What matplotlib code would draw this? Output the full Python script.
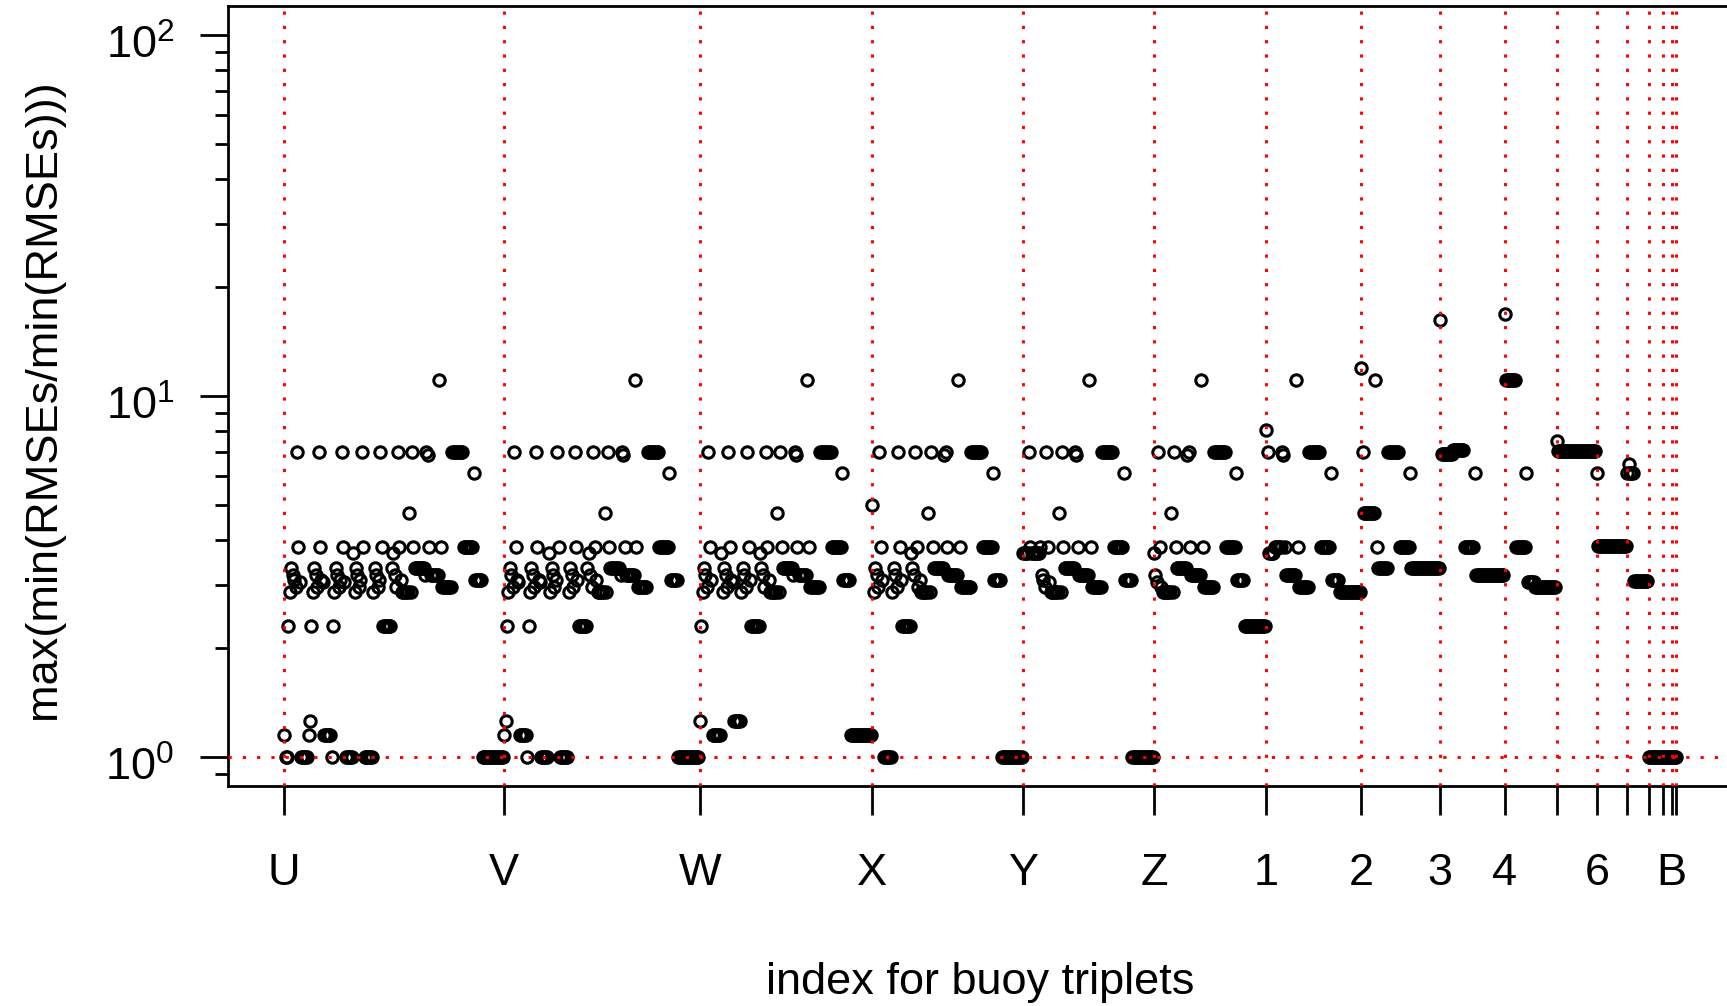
import matplotlib
matplotlib.use("Agg")
import matplotlib.pyplot as plt
import matplotlib.transforms as mtransforms
from matplotlib.ticker import LogLocator, NullFormatter

plt.rcParams['font.family'] = ['Liberation Sans', 'DejaVu Sans']
plt.rcParams['mathtext.fontset'] = 'custom'
plt.rcParams['mathtext.rm'] = 'Liberation Sans'
plt.rcParams['mathtext.it'] = 'Liberation Sans:italic'

# first triplet index of each group (first buoy of the triplet)
group_start = [1, 154, 290, 410, 515, 606, 684, 750, 805, 850, 886, 914, 935, 950, 960, 966, 969]
tick_labels = ['U', 'V', 'W', 'X', 'Y', 'Z', '1', '2', '3', '4', '', '6', '', '', '', 'B', '']

# runs inside each group: (first, last, value), positions counted from the group start
runs_U = [(1, 1, 1.15), (2, 3, 1.0), (4, 4, 2.3), (5, 5, 2.87), (6, 6, 3.33), (7, 7, 3.19), (8, 8, 3.09),
          (9, 9, 2.96), (10, 10, 7.0), (11, 11, 3.82), (12, 12, 3.06), (13, 17, 1.0),
          (18, 18, 1.15), (19, 19, 1.26), (20, 20, 2.3), (21, 21, 2.87), (22, 22, 3.33), (23, 23, 3.19),
          (24, 24, 2.96), (25, 25, 7.0), (26, 26, 3.82), (27, 27, 3.09), (28, 28, 3.06), (29, 33, 1.15),
          (34, 34, 1.0), (35, 35, 2.3), (36, 36, 2.87), (37, 37, 3.33), (38, 38, 3.19), (39, 39, 2.96),
          (40, 40, 3.09), (41, 41, 7.0), (42, 42, 3.82), (43, 43, 3.06), (44, 48, 1.0),
          (49, 49, 3.67), (50, 50, 2.87), (51, 51, 3.33), (52, 52, 3.19), (53, 53, 2.96), (54, 54, 3.09),
          (55, 55, 7.0), (56, 56, 3.82), (57, 62, 1.0),
          (63, 63, 2.87), (64, 64, 3.33), (65, 65, 3.19), (66, 66, 2.96), (67, 67, 3.09), (68, 68, 7.0),
          (69, 69, 3.82), (70, 75, 2.3),
          (76, 76, 3.33), (77, 77, 3.67), (78, 78, 3.19), (79, 79, 2.96), (80, 80, 7.0), (81, 81, 3.82),
          (82, 82, 3.09), (83, 87, 2.87),
          (88, 88, 4.75), (89, 89, 2.87), (90, 90, 7.0), (91, 91, 3.82), (92, 98, 3.33),
          (99, 99, 3.19), (100, 100, 7.0), (101, 101, 6.85), (102, 102, 3.82), (103, 108, 3.19),
          (109, 109, 11.07), (110, 110, 3.82), (111, 117, 2.96),
          (118, 125, 7.0), (126, 132, 3.82), (133, 133, 6.12), (134, 138, 3.09), (139, 153, 1.0)]

runs_V = [(1, 1, 1.15), (2, 2, 1.26), (3, 3, 2.3), (4, 4, 2.87), (5, 5, 3.33), (6, 6, 3.19), (7, 7, 2.96),
          (8, 8, 7.0), (9, 9, 3.82), (10, 10, 3.09), (11, 11, 3.06), (12, 16, 1.15),
          (17, 17, 1.0), (18, 18, 2.3), (19, 19, 2.87), (20, 20, 3.33), (21, 21, 3.19), (22, 22, 2.96),
          (23, 23, 7.0), (24, 24, 3.82), (25, 25, 3.09), (26, 26, 3.06), (27, 31, 1.0),
          (32, 32, 3.67), (33, 33, 2.87), (34, 34, 3.33), (35, 35, 3.19), (36, 36, 2.96), (37, 37, 3.09),
          (38, 38, 7.0), (39, 39, 3.82), (40, 45, 1.0),
          (46, 46, 2.87), (47, 47, 3.33), (48, 48, 3.19), (49, 49, 2.96), (50, 50, 7.0), (51, 51, 3.82),
          (52, 52, 3.09), (53, 58, 2.3),
          (59, 59, 3.33), (60, 60, 3.67), (61, 61, 3.19), (62, 62, 2.96), (63, 63, 7.0), (64, 64, 3.82),
          (65, 65, 3.09), (66, 70, 2.87),
          (71, 71, 4.75), (72, 72, 2.87), (73, 73, 7.0), (74, 74, 3.82), (75, 81, 3.33),
          (82, 82, 3.19), (83, 83, 7.0), (84, 84, 6.85), (85, 85, 3.82), (86, 91, 3.19),
          (92, 92, 11.07), (93, 93, 3.82), (94, 100, 2.96),
          (101, 108, 7.0), (109, 115, 3.82), (116, 116, 6.12), (117, 121, 3.09), (122, 136, 1.0)]

runs_W = [(1, 1, 1.26), (2, 2, 2.3), (3, 3, 2.87), (4, 4, 3.33), (5, 5, 3.19), (6, 6, 2.96), (7, 7, 7.0),
          (8, 8, 3.82), (9, 9, 3.09), (10, 15, 1.15),
          (16, 16, 3.67), (17, 17, 2.87), (18, 18, 3.33), (19, 19, 3.19), (20, 20, 2.96), (21, 21, 7.0),
          (22, 22, 3.82), (23, 23, 3.09), (24, 24, 3.06), (25, 29, 1.26),
          (30, 30, 2.87), (31, 31, 3.33), (32, 32, 3.19), (33, 33, 2.96), (34, 34, 7.0), (35, 35, 3.82),
          (36, 36, 3.09), (37, 42, 2.3),
          (43, 43, 3.67), (44, 44, 3.33), (45, 45, 3.19), (46, 46, 2.96), (47, 47, 7.0), (48, 48, 3.82),
          (49, 49, 3.09), (50, 54, 2.87),
          (55, 55, 4.75), (56, 56, 2.87), (57, 57, 7.0), (58, 58, 3.82), (59, 65, 3.33),
          (66, 66, 3.19), (67, 67, 7.0), (68, 68, 6.85), (69, 69, 3.82), (70, 75, 3.19),
          (76, 76, 11.07), (77, 77, 3.82), (78, 84, 2.96),
          (85, 92, 7.0), (93, 99, 3.82), (100, 100, 6.12), (101, 105, 3.09), (106, 120, 1.15)]

runs_X = [(1, 1, 5.0), (2, 2, 2.87), (3, 3, 3.33), (4, 4, 3.19), (5, 5, 2.96), (6, 6, 7.0), (7, 7, 3.82),
          (8, 8, 3.09), (9, 14, 1.0),
          (15, 15, 2.87), (16, 16, 3.33), (17, 17, 3.19), (18, 18, 2.96), (19, 19, 7.0), (20, 20, 3.82),
          (21, 21, 3.09), (22, 27, 2.3),
          (28, 28, 3.67), (29, 29, 3.33), (30, 30, 3.19), (31, 31, 7.0), (32, 32, 3.82), (33, 33, 2.96),
          (34, 34, 3.09), (35, 39, 2.87),
          (40, 40, 4.75), (41, 41, 2.87), (42, 42, 7.0), (43, 43, 3.82), (44, 50, 3.33),
          (51, 51, 6.85), (52, 52, 7.0), (53, 53, 3.82), (54, 60, 3.19),
          (61, 61, 11.07), (62, 62, 3.82), (63, 69, 2.96),
          (70, 77, 7.0), (78, 84, 3.82), (85, 85, 6.12), (86, 90, 3.09), (91, 105, 1.0)]

runs_Y = [(1, 4, 3.67), (5, 5, 7.0), (6, 6, 3.82), (7, 12, 3.67), (13, 13, 3.82),
          (14, 14, 3.19), (15, 15, 3.09), (16, 16, 2.96), (17, 17, 7.0), (18, 18, 3.82), (19, 19, 3.06),
          (20, 25, 2.87),
          (26, 26, 4.75), (27, 27, 2.87), (28, 28, 7.0), (29, 29, 3.82), (30, 36, 3.33),
          (37, 37, 7.0), (38, 38, 6.85), (39, 39, 3.82), (40, 46, 3.19),
          (47, 47, 11.07), (48, 48, 3.82), (49, 55, 2.96),
          (56, 63, 7.0), (64, 70, 3.82), (71, 71, 6.12), (72, 76, 3.09), (77, 91, 1.0)]

runs_Z = [(1, 1, 3.67), (2, 2, 3.19), (3, 3, 3.06), (4, 4, 7.0), (5, 5, 3.82), (6, 6, 2.96), (7, 12, 2.87),
          (13, 13, 4.75), (14, 14, 2.87), (15, 15, 7.0), (16, 16, 3.82), (17, 23, 3.33),
          (24, 24, 6.85), (25, 25, 7.0), (26, 26, 3.82), (27, 33, 3.19),
          (34, 34, 11.07), (35, 35, 3.82), (36, 42, 2.96),
          (43, 50, 7.0), (51, 57, 3.82), (58, 58, 6.12), (59, 63, 3.09), (64, 78, 2.3)]

runs_1 = [(1, 1, 8.05), (2, 2, 7.0), (3, 6, 3.67), (7, 11, 3.82),
          (12, 12, 7.0), (13, 13, 6.85), (14, 14, 3.82), (15, 21, 3.19),
          (22, 22, 11.07), (23, 23, 3.82), (24, 30, 2.96),
          (31, 38, 7.0), (39, 45, 3.82), (46, 46, 6.12), (47, 51, 3.09), (52, 66, 2.87)]

runs_2 = [(1, 1, 11.94), (2, 2, 7.0), (3, 10, 4.75), (11, 11, 11.07), (12, 12, 3.82), (13, 19, 3.33),
          (20, 27, 7.0), (28, 34, 3.82), (35, 35, 6.12), (36, 55, 3.33)]

runs_3 = [(1, 1, 16.2), (2, 9, 6.9), (10, 17, 7.1), (18, 24, 3.82), (25, 25, 6.12), (26, 45, 3.19)]

runs_4 = [(1, 1, 16.85), (2, 8, 11.07), (9, 15, 3.82), (16, 16, 6.12), (17, 21, 3.06), (22, 36, 2.96)]

runs_5 = [(1, 1, 7.5), (2, 28, 7.05)]
runs_6 = [(1, 1, 6.13), (2, 21, 3.85)]
runs_7 = [(1, 1, 6.1), (2, 2, 6.48), (3, 5, 6.1), (6, 15, 3.07)]
runs_8 = [(1, 10, 1.0)]
runs_9 = [(1, 6, 1.0)]
runs_A = [(1, 3, 1.0)]
runs_B = [(1, 1, 1.0)]

group_runs = [runs_U, runs_V, runs_W, runs_X, runs_Y, runs_Z, runs_1, runs_2, runs_3, runs_4,
              runs_5, runs_6, runs_7, runs_8, runs_9, runs_A, runs_B]

xs, ys = [], []
for start, runs in zip(group_start, group_runs):
    for a, b, v in runs:
        for r in range(a, b + 1):
            xs.append(start + r - 1)
            ys.append(v)

W, H = 1727, 1006
fig = plt.figure(figsize=(W / 100, H / 100), dpi=100)
ax = fig.add_axes([228.4 / W, 1 - 785.9 / H, (1731.7 - 228.4) / W, (785.9 - 6.1) / H])

ax.plot(xs, ys, 'o', mfc='none', mec='black', ms=8.2, mew=2.2, zorder=2)

dots = (0, (1.1, 3.8))
for s in group_start:
    ax.axvline(s, color='red', lw=2.1, ls=dots, zorder=3)
ax.axhline(1, color='red', lw=2.1, ls=dots, zorder=3)

ax.set_xlim(-37.72, 1007.72)
ax.set_yscale('log')
ax.set_ylim(10 ** -0.08, 10 ** 2.08)

ax.set_xticks(group_start, labels=tick_labels)
ax.set_yticks([1, 10, 100], labels=[r'$\mathregular{10^{0}}$', r'$\mathregular{10^{1}}$',
                                    r'$\mathregular{10^{2}}$'])
ax.yaxis.set_minor_locator(LogLocator(base=10, subs=range(2, 10)))
ax.yaxis.set_minor_formatter(NullFormatter())

ax.tick_params(axis='x', length=21, width=2, pad=27, labelsize=32.5)
ax.tick_params(axis='y', which='major', length=20, width=2, pad=19, labelsize=32.5)
ax.tick_params(axis='y', which='minor', length=9.5, width=2)
for sp in ax.spines.values():
    sp.set_linewidth(2)

shift = mtransforms.ScaledTranslation(0, -6.5 / 100, fig.dpi_scale_trans)
for lbl in ax.get_yticklabels():
    lbl.set_transform(lbl.get_transform() + shift)

fig.text(980 / W, 1 - 994 / H, 'index for buoy triplets', ha='center', va='baseline', fontsize=32.5)
fig.text(43.5 / W, 1 - 399 / H, 'max(min(RMSEs/min(RMSEs)))', rotation=90,
         ha='center', va='center', fontsize=32.5)

fig.savefig('out.png', dpi=100)
